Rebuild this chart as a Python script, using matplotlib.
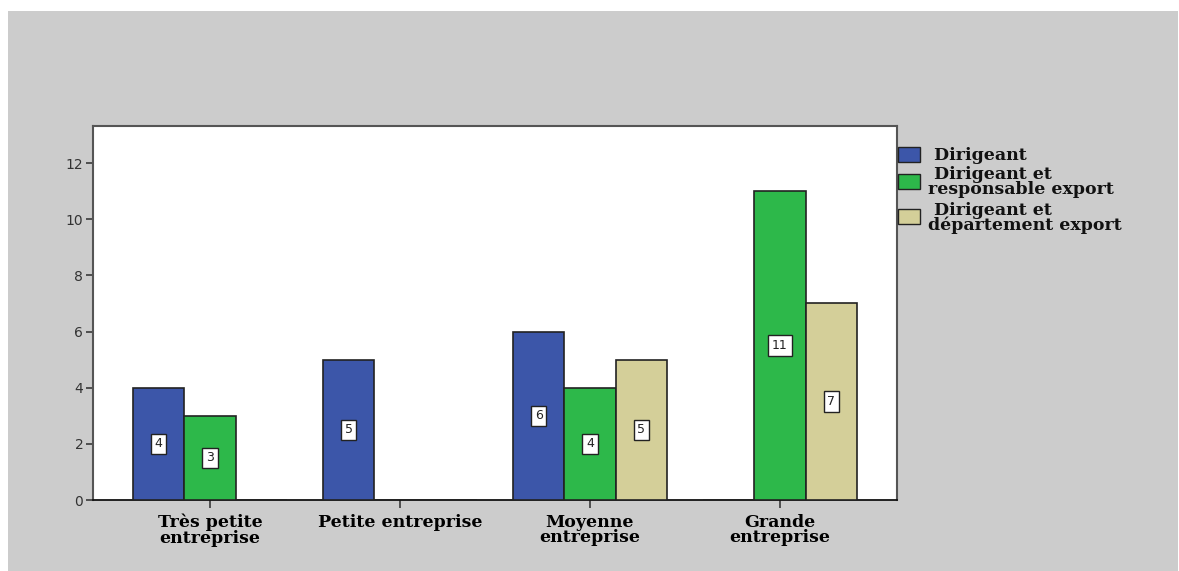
import matplotlib.pyplot as plt
from matplotlib.patches import Rectangle
import numpy as np

categories = ['Très petite\nentreprise', 'Petite entreprise', 'Moyenne\nentreprise', 'Grande\nentreprise']
series = ['Dirigeant', ' Dirigeant et\nresponsable export', ' Dirigeant et\ndépartement export']
values = [
    [4, 5, 6, 0],    # Dirigeant
    [3, 0, 4, 11],   # Dirigeant et responsable export
    [0, 0, 5, 7],    # Dirigeant et département export
]
colors = ['#3c56a9', '#2db84a', '#d4cf99']

W, H = 1179, 571
fig = plt.figure(figsize=(W / 100, H / 100), dpi=100)
fig.patch.set_facecolor('white')

# gray backdrop
fig.add_artist(Rectangle((8 / W, 0), (W - 9) / W, (H - 11) / H,
                         transform=fig.transFigure, facecolor='#cccccc',
                         edgecolor='none', zorder=-10))

ax = fig.add_axes([93 / W, (H - 500) / H, (897 - 93) / W, (500 - 126) / H])
ax.set_facecolor('white')

x = np.arange(len(categories))
bw = 0.27
for i, (name, vals, col) in enumerate(zip(series, values, colors)):
    pos = x + (i - 1) * bw
    ax.bar(pos, vals, width=bw, color=col, edgecolor='#222222', linewidth=1.2, zorder=3)
    for px, v in zip(pos, vals):
        if v > 0:
            ax.text(px, v / 2, str(v), ha='center', va='center', fontsize=9,
                    family='DejaVu Sans', color='#222222', zorder=5,
                    bbox=dict(boxstyle='square,pad=0.3', facecolor='white',
                              edgecolor='#222222', linewidth=1.0))

ax.set_xlim(-0.616, 3.616)
ax.set_ylim(0, 13.32)
ax.set_yticks(range(0, 13, 2))
ax.set_xticks(x)
ax.set_xticklabels(categories, family='DejaVu Serif', fontweight='bold',
                   fontsize=12.5, linespacing=0.88)
ax.tick_params(axis='y', length=5, width=1.3, color='#444444', labelsize=10,
               labelcolor='#333333', pad=2)
ax.tick_params(axis='x', length=6, width=1.3, color='#444444', pad=4)
for lbl in ax.get_yticklabels():
    lbl.set_family('DejaVu Sans')

for s in ['top', 'right', 'left']:
    ax.spines[s].set_color('#555555')
    ax.spines[s].set_linewidth(1.5)
ax.spines['bottom'].set_color('#111111')
ax.spines['bottom'].set_linewidth(1.3)

# legend drawn by hand
patch_y = [147, 174, 209]
text_y = [155, 182, 218]
for name, col, py, ty in zip(series, colors, patch_y, text_y):
    fig.add_artist(Rectangle((898 / W, (H - py - 15) / H), 22 / W, 15 / H,
                             transform=fig.transFigure, facecolor=col,
                             edgecolor='#222222', linewidth=1.0))
    fig.text(928 / W, (H - ty) / H, name if name.startswith(' ') else ' ' + name,
             ha='left', va='center', family='DejaVu Serif',
             fontweight='bold', fontsize=12.5, linespacing=0.88, color='#111111')

fig.savefig('out.png', dpi=100)
